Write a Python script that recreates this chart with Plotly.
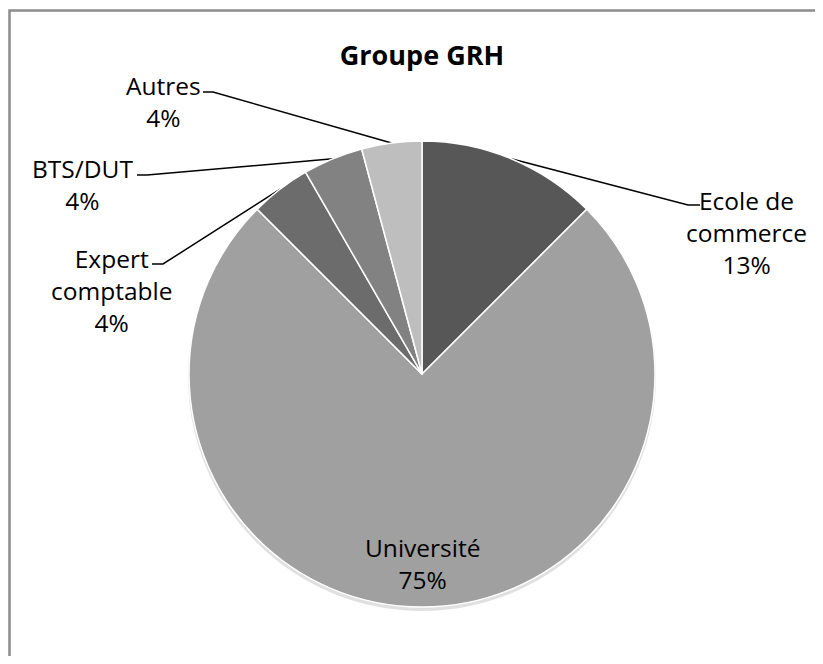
import math
import plotly.graph_objects as go

# data
labels = ['Ecole de commerce', 'Université', 'Expert comptable', 'BTS/DUT', 'Autres']
label_text = ['Ecole de<br>commerce', 'Université', 'Expert<br>comptable', 'BTS/DUT', 'Autres']
values = [3, 18, 1, 1, 1]
colors = ['#575757', '#a0a0a0', '#6c6c6c', '#828282', '#bebebe']

# the page body adds an 8px margin, so the figure is drawn 8px in
OFF = 8
W, H = 823 - 2 * OFF, 664 - 2 * OFF
CX, CY, R = 422 - OFF, 374 - OFF, 233  # pie centre / radius in pixels

# label centres and elbow points (window pixels)
label_pos = [(746, 232), (422, 563), (111, 290), (82, 184), (163, 101)]
elbows = [[(700, 205), (688, 205)], None, [(152, 264), (163, 264)],
          [(137, 175), (147, 175)], [(203, 92), (213, 92)]]


def ux(px):
    return (px - OFF - CX) / R


def uy(py):
    return (CY - (py - OFF)) / R


total = sum(values)
fig = go.Figure()

fig.add_trace(go.Pie(
    labels=labels,
    values=values,
    sort=False,
    direction='clockwise',
    rotation=0,
    marker=dict(colors=colors, line=dict(color='white', width=1.5)),
    textinfo='none',
    showlegend=False,
    domain=dict(x=[(CX - R) / W, (CX + R) / W], y=[(H - CY - R) / H, (H - CY + R) / H]),
))

# leader lines from the slice mid-angle on the rim
start = 0
for i, v in enumerate(values):
    mid = (start + v / 2) / total * 2 * math.pi
    start += v
    if elbows[i] is None:
        continue
    ex, ey = math.sin(mid), math.cos(mid)
    pts = [(ux(x), uy(y)) for x, y in elbows[i]] + [(ex, ey)]
    fig.add_trace(go.Scatter(
        x=[p[0] for p in pts], y=[p[1] for p in pts],
        mode='lines', line=dict(color='black', width=1.5),
        hoverinfo='skip', showlegend=False,
    ))

for i, v in enumerate(values):
    pct = int(v / total * 100 + 0.5)
    x, y = label_pos[i]
    fig.add_annotation(
        x=ux(x), y=uy(y), xref='x', yref='y',
        text=f'{label_text[i]}<br>{pct}%', showarrow=False,
        font=dict(family='Open Sans', size=24.5, color='black'),
        align='center',
    )

fig.update_layout(
    width=W, height=H,
    margin=dict(l=0, r=0, t=0, b=0),
    paper_bgcolor='white', plot_bgcolor='white',
    title=dict(text='<b>Groupe GRH</b>', x=CX / W, xanchor='center',
               y=1 - (56 - OFF) / H, yanchor='middle',
               font=dict(family='Open Sans', size=27, color='black')),
    xaxis=dict(range=[ux(OFF), ux(OFF + W)], visible=False, fixedrange=True),
    yaxis=dict(range=[uy(OFF + H), uy(OFF)], visible=False, fixedrange=True),
    shapes=[
        # soft shadow under the pie
        dict(type='circle', xref='paper', yref='paper', layer='below',
             x0=(CX - R - 1) / W, x1=(CX + R + 1) / W,
             y0=(H - CY - R - 4) / H, y1=(H - CY + R - 2) / H,
             fillcolor='rgba(0,0,0,0.12)', line=dict(width=0)),
        dict(type='rect', xref='paper', yref='paper',
             x0=(9.5 - OFF) / W, x1=1.2, y0=-0.2, y1=1 - (10.5 - OFF) / H,
             line=dict(color='#8c8c8c', width=2.5), layer='above'),
    ],
)

fig.write_html('out.html')
